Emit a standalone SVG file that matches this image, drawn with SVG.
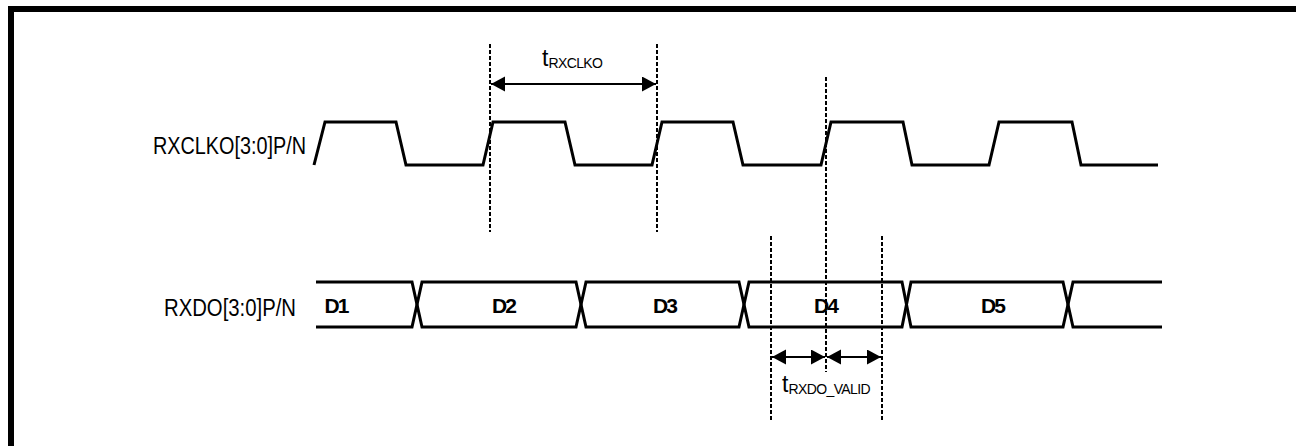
<svg xmlns="http://www.w3.org/2000/svg" width="1296" height="446" viewBox="0 0 1296 446">
<style>
.frame{fill:#000}
.wave{fill:none;stroke:#000;stroke-width:3;stroke-linejoin:miter}
.dash{fill:none;stroke:#000;stroke-width:2;stroke-dasharray:4,2}
.dim{fill:none;stroke:#000;stroke-width:2}
.lbl{font-family:"Liberation Sans",Arial,sans-serif;font-size:23px;fill:#000}
.dat{font-family:"Liberation Sans",Arial,sans-serif;font-size:21px;font-weight:bold;fill:#000;text-anchor:middle;letter-spacing:-2px}
.tl{font-family:"Liberation Sans",Arial,sans-serif;font-size:23px;fill:#000}
.sub{font-size:14px;letter-spacing:-0.6px}
</style>
<defs>
<marker id="ah" markerUnits="userSpaceOnUse" markerWidth="15" markerHeight="16" refX="14" refY="7.5" orient="auto-start-reverse">
<path d="M0,0 L14,7.5 L0,15 z" fill="#000"/>
</marker>
</defs>
<g id="frame">
<rect class="frame" x="8" y="6" width="1288" height="6"/>
<rect class="frame" x="8" y="6" width="6" height="440"/>
</g>
<g id="rxclko">
<text class="lbl" x="153" y="154" textLength="153" lengthAdjust="spacingAndGlyphs">RXCLKO[3:0]P/N</text>
<path class="wave" d="M314,165 L325,122 L396,122 L406,165 L483,165 L493,122 L565,122 L575,165 L652,165 L662,122 L733,122 L743,165 L821,165 L831,122 L903,122 L912,165 L989,165 L999,122 L1072,122 L1081,165 L1158,165"/>
</g>
<g id="rxdo">
<text class="lbl" x="164" y="316" textLength="132" lengthAdjust="spacingAndGlyphs">RXDO[3:0]P/N</text>
<path class="wave" d="M316,282 H412 L422,327 H576 L586,282 H739 L749,327 H902 L911,282 H1063 L1073,327 H1162"/>
<path class="wave" d="M316,327 H412 L422,282 H576 L586,327 H739 L749,282 H902 L911,327 H1063 L1073,282 H1162"/>
<text class="dat" x="336" y="313">D1</text>
<text class="dat" x="503.5" y="313">D2</text>
<text class="dat" x="664.5" y="313">D3</text>
<text class="dat" x="825.5" y="313">D4</text>
<text class="dat" x="992.5" y="313">D5</text>
</g>
<g id="connectors">
<line class="dash" x1="490" y1="44" x2="490" y2="232"/>
<line class="dash" x1="657" y1="44" x2="657" y2="232"/>
<line class="dash" x1="826" y1="77" x2="826" y2="372"/>
<line class="dash" x1="771" y1="236" x2="771" y2="422"/>
<line class="dash" x1="882" y1="236" x2="882" y2="422"/>
<line class="dim" x1="491" y1="84" x2="656" y2="84" marker-start="url(#ah)" marker-end="url(#ah)"/>
<line class="dim" x1="772" y1="357" x2="825" y2="357" marker-start="url(#ah)" marker-end="url(#ah)"/>
<line class="dim" x1="827" y1="357" x2="881" y2="357" marker-start="url(#ah)" marker-end="url(#ah)"/>
</g>
<g id="labels">
<text class="tl" x="542" y="66">t<tspan class="sub" y="68">RXCLKO</tspan></text>
<text class="tl" x="782" y="392">t<tspan class="sub" y="394">RXDO_VALID</tspan></text>
</g>
</svg>
